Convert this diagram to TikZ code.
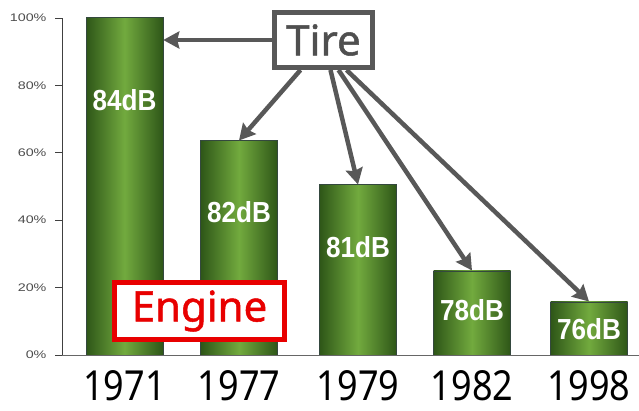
\documentclass[tikz,border=0pt]{standalone}
\usepackage{fontspec}
\setmainfont{Noto Sans}
\newfontfamily\barfont{Liberation Sans}
\newfontfamily\boxfont{Noto Sans}[FakeBold=1.2]
\usetikzlibrary{arrows.meta}
\definecolor{bardark}{RGB}{46,86,24}
\definecolor{barlight}{RGB}{114,170,62}
\definecolor{baredge}{RGB}{52,72,62}
\definecolor{tiregray}{RGB}{88,88,88}
\definecolor{enginered}{RGB}{232,0,0}
\tikzset{
  bar/.style={anchor=south, minimum width=77pt, inner sep=0pt, left color=bardark, right color=bardark, middle color=barlight, draw=baredge, line width=0.5pt},
  dblabel/.style={text=white, xscale=0.9, transform shape, font=\barfont\bfseries\fontsize{29}{29}\selectfont},
  yearlabel/.style={text=black, inner sep=0pt, yscale=1.15, transform shape, font=\fontsize{36}{36}\selectfont},
  ticklabel/.style={anchor=east, inner sep=1pt, text=black!70, xscale=1.3, transform shape, font=\barfont\fontsize{11}{11}\selectfont},
  labelbox/.style={line width=5pt, fill=white, font=\boxfont\fontsize{42}{42}\selectfont},
  tirearrow/.style={-{Stealth[length=16pt,width=17pt,inset=2pt]}, tiregray, line width=4.5pt}
}
\begin{document}
\begin{tikzpicture}[x=1pt,y=1pt]
    \useasboundingbox (0,0) rectangle (639,410);

    \node[bar, minimum height=337pt] (b71) at (124.5,55) {};
    \node[bar, minimum height=214pt] (b77) at (239,55) {};
    \node[bar, minimum height=170pt] (b79) at (358,55) {};
    \node[bar, minimum height=84pt] (b82) at (472,55) {};
    \node[bar, minimum height=53pt] (b98) at (589,55) {};

    \draw[black!75, line width=0.8pt] (62,55) -- (62,392);
    \draw[black!60, line width=0.8pt] (62,55) -- (639,55);
    \foreach \p in {0,20,...,100}{
        \draw[black!75, line width=0.8pt] (55,55+3.37*\p) -- (62,55+3.37*\p);
        \node[ticklabel] (t\p) at (48,55+3.37*\p) {\p\%};
    }

    \node[dblabel] (l71) at (124.5,310) {84dB};
    \node[dblabel] (l77) at (239,198) {82dB};
    \node[dblabel] (l79) at (358,163) {81dB};
    \node[dblabel] (l82) at (472,100) {78dB};
    \node[dblabel] (l98) at (589,81) {76dB};

    \node[yearlabel] (y71) at (124.5,24) {1971};
    \node[yearlabel] (y77) at (239,24) {1977};
    \node[yearlabel] (y79) at (358,24) {1979};
    \node[yearlabel] (y82) at (472,24) {1982};
    \node[yearlabel] (y98) at (589,24) {1998};

    \node[labelbox, draw=enginered, minimum width=170pt, minimum height=57pt, text=enginered] (engine) at (199.5,99) {Engine};
    \node[labelbox, draw=tiregray, minimum width=98pt, minimum height=55pt, text=tiregray!90!black] (tire) at (323.5,370) {Tire};

    \path[tirearrow]
    (tire.west) edge (b71.east |- tire.west)
    ([xshift=-23pt]tire.south) edge (b77.north)
    ([xshift=7pt]tire.south) edge (b79.north)
    ([xshift=15pt]tire.south) edge (b82.north)
    ([xshift=23pt]tire.south) edge (b98.north)
    ;
\end{tikzpicture}
\end{document}
